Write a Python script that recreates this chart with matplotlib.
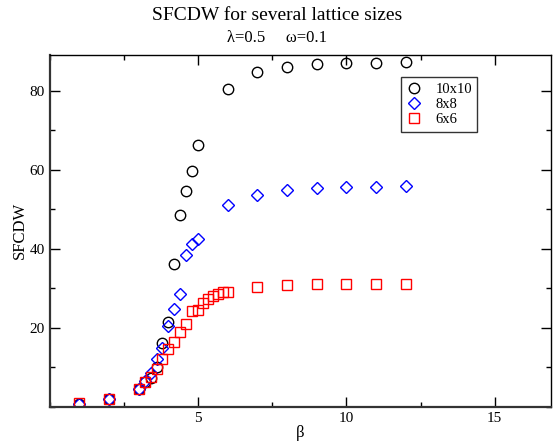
import matplotlib
matplotlib.use("Agg")
import matplotlib.pyplot as plt
from matplotlib.ticker import MultipleLocator, FixedLocator

plt.rcParams['font.family'] = ['Liberation Serif', 'DejaVu Serif']

beta_10 = [1, 2, 3, 3.2, 3.4, 3.6, 3.8, 4.0, 4.2, 4.4, 4.6, 4.8, 5.0, 6, 7, 8, 9, 10, 11, 12]
sf_10 = [0.8, 2.0, 4.6, 6.3, 7.2, 10.1, 16.2, 21.4, 36.2, 48.5, 54.6, 59.7, 66.3,
         80.4, 84.7, 86.0, 86.7, 87.0, 87.0, 87.2]

beta_8 = [1, 2, 3, 3.2, 3.4, 3.6, 3.8, 4.0, 4.2, 4.4, 4.6, 4.8, 5.0, 6, 7, 8, 9, 10, 11, 12]
sf_8 = [0.8, 1.9, 4.6, 6.4, 8.6, 12.2, 14.8, 20.4, 24.8, 28.5, 38.4, 41.2, 42.4,
        51.2, 53.7, 54.9, 55.5, 55.7, 55.7, 55.8]

beta_6 = [1, 2, 3, 3.2, 3.4, 3.6, 3.8, 4.0, 4.2, 4.4, 4.6, 4.8, 5.0,
          5.167, 5.333, 5.5, 5.667, 5.833, 6, 7, 8, 9, 10, 11, 12]
sf_6 = [0.85, 2.0, 4.6, 6.3, 7.4, 9.5, 12.0, 14.5, 16.3, 18.8, 20.9, 24.2, 24.4,
        26.2, 27.3, 28.1, 28.5, 29.0, 29.0, 30.3, 30.8, 31.0, 31.2, 31.2, 31.2]

fig = plt.figure(figsize=(5.54, 4.43), dpi=100)
ax = fig.add_axes([49.8 / 554, 36.3 / 443, 501.2 / 554, 352.2 / 443])

ax.plot(beta_10, sf_10, linestyle='none', marker='o', markersize=7.5,
        markerfacecolor='none', markeredgecolor='black', markeredgewidth=1.0, label='10x10')
ax.plot(beta_8, sf_8, linestyle='none', marker='D', markersize=6.0,
        markerfacecolor='none', markeredgecolor='blue', markeredgewidth=1.0, label='8x8')
ax.plot(beta_6, sf_6, linestyle='none', marker='s', markersize=6.5,
        markerfacecolor='none', markeredgecolor='red', markeredgewidth=1.0, label='6x6')

ax.set_xlim(0, 16.9)
ax.set_ylim(0, 89.2)
ax.xaxis.set_major_locator(FixedLocator([5, 10, 15]))
ax.xaxis.set_minor_locator(MultipleLocator(2.5))
ax.yaxis.set_major_locator(FixedLocator([20, 40, 60, 80]))
ax.yaxis.set_minor_locator(MultipleLocator(10))
ax.tick_params(which='both', direction='in', top=True, right=True, labelsize=11)
ax.tick_params(which='major', length=7, width=1)
ax.tick_params(which='minor', length=3.5, width=1)

for side in ['left', 'bottom']:
    ax.spines[side].set_linewidth(1.6)
    ax.spines[side].set_color('#333333')
for side in ['top', 'right']:
    ax.spines[side].set_linewidth(1.0)

ax.set_xlabel('β', fontsize=12, labelpad=0)
ax.set_ylabel('SFCDW', fontsize=12, labelpad=1)

fig.text(0.5, 0.965, 'SFCDW for several lattice sizes', ha='center', va='center', fontsize=14)
fig.text(0.5, 0.914, 'λ=0.5     ω=0.1', ha='center', va='center', fontsize=12)

leg = ax.legend(loc='upper left', bbox_to_anchor=(0.701, 0.935), fontsize=10.5,
                frameon=True, fancybox=False, edgecolor='black', handlelength=1.0,
                handletextpad=1.0, borderpad=0.35, labelspacing=0.15, borderaxespad=0)
leg.get_frame().set_linewidth(1.0)

fig.savefig('out.png', dpi=100)
